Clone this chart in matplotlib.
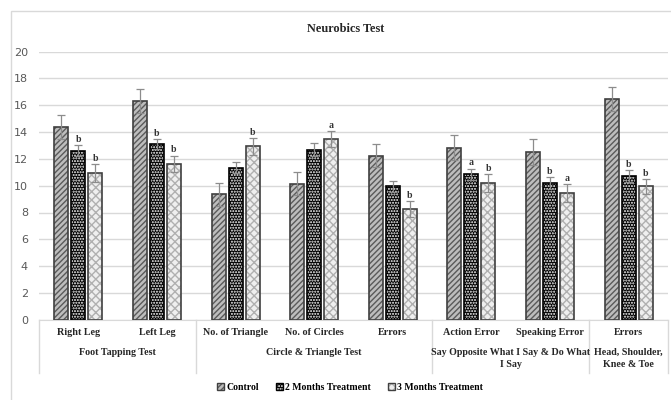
import matplotlib.pyplot as plt
import matplotlib.patches as mpatches
from matplotlib.legend_handler import HandlerTuple
import numpy as np

categories = ['Right Leg', 'Left Leg', 'No. of Triangle', 'No. of Circles', 'Errors',
              'Action Error', 'Speaking Error', 'Errors']
groups = ['Foot Tapping Test', 'Circle & Triangle Test',
          'Say Opposite What I Say & Do What\nI Say', 'Head, Shoulder,\nKnee & Toe']
group_sizes = [2, 3, 2, 1]
series = ['Control', '2 Months Treatment', '3 Months Treatment']

control = [14.4, 16.3, 9.35, 10.15, 12.25, 12.85, 12.5, 16.45]
month2 = [12.6, 13.1, 11.35, 12.7, 9.95, 10.85, 10.2, 10.7]
month3 = [10.95, 11.65, 12.95, 13.5, 8.25, 10.2, 9.45, 9.95]
control_err = [0.9, 0.9, 0.87, 0.87, 0.87, 0.9, 0.95, 0.9]
month2_err = [0.4, 0.35, 0.4, 0.45, 0.42, 0.43, 0.45, 0.45]
month3_err = [0.65, 0.6, 0.63, 0.6, 0.62, 0.65, 0.65, 0.55]
month2_sig = ['b', 'b', '', '', '', 'a', 'b', 'b']
month3_sig = ['b', 'b', 'b', 'a', 'b', 'b', 'a', 'b']

serif = 'Liberation Serif'

fig = plt.figure(figsize=(6.71, 4.0), dpi=100)
# outer chart border
fig.patches.append(mpatches.Rectangle((11 / 671, -0.1), 1.2, 1 - 11 / 400 + 0.1,
                                      transform=fig.transFigure, fill=False,
                                      edgecolor='#d9d9d9', linewidth=1))
ax = fig.add_axes([39 / 671, 80.3 / 400, 629 / 671, 268 / 400])

x = np.arange(len(categories))
w = 0.178
step = 0.216
edge = '#404040'
ecol = '#8c8c8c'

styles = [
    dict(facecolor='#bdbdbd', edgecolor='#5a5a5a', hatch='//////'),
    dict(facecolor='black', edgecolor='white', hatch='......'),
    dict(facecolor='#efefef', edgecolor='#b0b0b0', hatch='xxxx'),
]
outlines = [edge, 'black', edge]

for k, vals in enumerate([control, month2, month3]):
    pos = x + (k - 1) * step
    ax.bar(pos, vals, w, linewidth=0, zorder=2, **styles[k])
    ax.bar(pos, vals, w, fill=False, edgecolor=outlines[k], linewidth=1.2, zorder=3)

for off, vals, errs in [(-step, control, control_err), (0, month2, month2_err),
                        (step, month3, month3_err)]:
    ax.errorbar(x + off, vals, yerr=errs, fmt='none', ecolor=ecol, elinewidth=0.9,
                capsize=3, capthick=0.9, zorder=4)

for off, vals, errs, sig in [(0, month2, month2_err, month2_sig),
                             (step, month3, month3_err, month3_sig)]:
    for i, s in enumerate(sig):
        if s:
            ax.text(x[i] + off, vals[i] + errs[i] + 0.08, s, ha='center', va='bottom',
                    fontsize=7, fontweight='bold', family=serif, color='#333333', zorder=5)

ax.set_ylim(0, 20)
ax.set_xlim(-0.5, len(categories) - 0.5)
ax.set_yticks(range(0, 21, 2))
ax.tick_params(axis='y', length=0, labelsize=8, labelcolor='#595959', pad=8)
ax.tick_params(axis='x', length=0, labelbottom=False)
ax.yaxis.grid(True, color='#d9d9d9', linewidth=1)
ax.set_axisbelow(True)
for sp in ['top', 'right', 'left']:
    ax.spines[sp].set_visible(False)
ax.spines['bottom'].set_color('#d9d9d9')

# two-level category axis
trans = ax.get_xaxis_transform()
for i, c in enumerate(categories):
    ax.text(x[i], -0.048, c, transform=trans, ha='center', va='center', fontsize=7.3,
            fontweight='bold', family=serif, color='#262626')
start = 0
bounds = [-0.5]
for g, n in zip(groups, group_sizes):
    centre = start + (n - 1) / 2
    ax.text(centre, -0.105, g, transform=trans, ha='center', va='top', fontsize=7.2,
            fontweight='bold', family=serif, color='#262626', linespacing=1.45)
    start += n
    bounds.append(start - 0.5)
for b in bounds:
    ax.plot([b, b], [0, -0.2], transform=trans, color='#d9d9d9', linewidth=1,
            clip_on=False)

fig.text(346 / 671, 1 - 29 / 400, 'Neurobics Test', ha='center', va='center',
         fontsize=8.8, fontweight='bold', family=serif, color='#262626')

handles = []
for k in range(3):
    fill = mpatches.Patch(linewidth=0, **styles[k])
    frame = mpatches.Patch(fill=False, edgecolor=outlines[k], linewidth=1)
    handles.append((fill, frame))
fig.legend(handles=handles, labels=series, loc='center',
           bbox_to_anchor=(350 / 671, 13 / 400), ncol=3,
           handler_map={tuple: HandlerTuple(ndivide=1, pad=0)},
           frameon=False, prop={'family': serif, 'weight': 'bold', 'size': 7},
           handlelength=0.7, handleheight=0.7, handletextpad=0.2, columnspacing=1.8)

fig.savefig('out.png', dpi=100)
